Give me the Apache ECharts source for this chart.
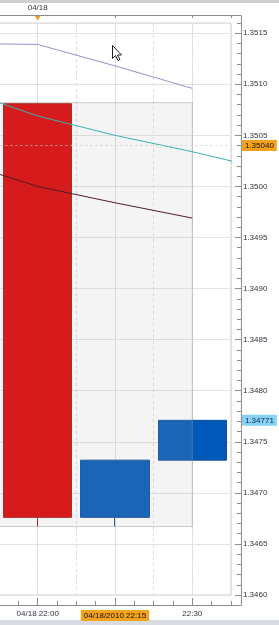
<!DOCTYPE html>
<html><head><meta charset="utf-8">
<script src="https://cdn.jsdelivr.net/npm/echarts@6/dist/echarts.min.js"></script>
<style>html,body{margin:0;padding:0;background:#fff;overflow:hidden}#c{width:279px;height:625px}</style>
</head><body><div id="c"></div>
<script>
// ---- data (x = minutes after 21:00) ----
const candleTimes = [60, 75, 90];
const candleOpen  = [1.35081, 1.34676, 1.34732];
const candleClose = [1.34676, 1.34732, 1.34771];
const candleLow   = [1.34667, 1.34667, 1.34732];
const candleHigh  = [1.35081, 1.34732, 1.34771];

const maTimes  = [45, 60, 75, 90, 105];
const maPurple = [1.35140, 1.35139, 1.35118, 1.35096, null];
const maTeal   = [1.35095, 1.35069, 1.35050, 1.35034, 1.35016];
const maMaroon = [1.35024, 1.35000, 1.34984, 1.34969, null];

const xTickValues = [60, 75, 90];
const xTickLabels = ['04/18 22:00', '04/18/2010 22:15', '22:30'];
const xHighlightTick = 75;
const topTickValue = 60;
const topTickLabel = '04/18';
const yTickLabels = ['1.3460','1.3465','1.3470','1.3475','1.3480','1.3485','1.3490','1.3495','1.3500','1.3505','1.3510','1.3515'];

const lastPrice = 1.35040, lastPriceText = '1.35040';
const bidPrice = 1.34771, bidPriceText = '1.34771';
const hlX = [45, 90], hlY = [1.35082, 1.34667];

// ---- layout ----
const X_MIN = 45, X_MAX = 97.5, Y_MIN = 1.3460, Y_MAX = 1.3516;
const GRID = {left: -39.6, right: 48.05, top: 23, bottom: 30};
const FONT = 'Liberation Sans';
const TXT = '#333340';
const AX = '#8c8c8c';

const chart = echarts.init(document.getElementById('c'), null, {renderer: 'canvas'});

function fmtX(v) {
  const i = xTickValues.indexOf(v);
  if (i < 0) return '';
  return v === xHighlightTick ? '{hl|' + xTickLabels[i] + '}' : xTickLabels[i];
}
function fmtY(v) {
  const s = (+v).toFixed(4);
  return yTickLabels.indexOf(s) >= 0 ? s : '';
}

const W = 279, H = 625;
const frameL = 0, frameR = W - GRID.right + 10, frameT = GRID.top - 8, frameB = H - GRID.bottom + 10;

chart.setOption({
  animation: false,
  backgroundColor: '#fff',
  textStyle: {fontFamily: FONT},
  grid: {left: GRID.left, right: GRID.right, top: GRID.top, bottom: GRID.bottom,
         outerBoundsMode: 'none', containLabel: false,
         show: true, borderColor: '#d4d4d4', borderWidth: 1, backgroundColor: 'transparent'},
  xAxis: [
    { type: 'value', position: 'bottom', offset: 10, min: X_MIN, max: X_MAX, interval: 15,
      axisLine: {show: false, onZero: false},
      axisTick: {show: true, inside: true, length: 7, lineStyle: {color: AX}},
      axisLabel: {show: true, margin: 5, fontSize: 8, fontFamily: FONT, color: TXT, formatter: fmtX,
                  showMaxLabel: false, showMinLabel: false, hideOverlap: false,
                  rich: {hl: {backgroundColor: '#f5a21c', color: '#111', padding: [2, 3, 1, 3], fontSize: 8, fontFamily: FONT}}},
      splitLine: {show: true, lineStyle: {color: '#e2e2e2', width: 1}} },
    { type: 'value', position: 'bottom', offset: 10, min: X_MIN, max: X_MAX, interval: 3.75,
      axisLine: {show: false, onZero: false},
      axisTick: {show: true, inside: true, length: 4, lineStyle: {color: AX}},
      axisLabel: {show: false}, splitLine: {show: false} },
    { type: 'value', position: 'bottom', offset: 10, min: X_MIN, max: X_MAX, interval: 7.5,
      axisLine: {show: false, onZero: false}, axisTick: {show: false}, axisLabel: {show: false},
      splitLine: {show: true, lineStyle: {color: '#dcdcdc', type: [3, 3], width: 1}} },
    { type: 'value', position: 'top', offset: 8, min: X_MIN, max: X_MAX, interval: 15,
      axisLine: {show: false, onZero: false},
      axisTick: {show: true, inside: true, length: 3, lineStyle: {color: AX}},
      axisLabel: {show: true, margin: 3, fontSize: 8, fontFamily: FONT, color: TXT,
                  formatter: v => v === topTickValue ? topTickLabel : ''},
      splitLine: {show: false} }
  ],
  yAxis: [
    { type: 'value', position: 'right', offset: 10, min: Y_MIN, max: Y_MAX, interval: 0.0005, scale: true,
      axisLine: {show: false, onZero: false},
      axisTick: {show: true, inside: true, length: 6, lineStyle: {color: AX}},
      axisLabel: {show: true, margin: 2, fontSize: 8, fontFamily: FONT, color: TXT, formatter: fmtY, showMaxLabel: false},
      splitLine: {show: true, lineStyle: {color: '#e2e2e2', width: 1}} },
    { type: 'value', position: 'right', offset: 10, min: Y_MIN, max: Y_MAX, interval: 0.0001, scale: true,
      axisLine: {show: false, onZero: false},
      axisTick: {show: true, inside: true, length: 4, lineStyle: {color: AX}},
      axisLabel: {show: false}, splitLine: {show: false} }
  ],
  series: [
    { type: 'candlestick', xAxisIndex: 0, yAxisIndex: 0, z: 2, barWidth: 69, clip: false,
      encode: {x: 0, y: [1, 2, 3, 4]},
      data: candleTimes.map((t, i) => [t, candleOpen[i], candleClose[i], candleLow[i], candleHigh[i]]),
      itemStyle: {color: '#0058b8', borderColor: '#0f4c98', color0: '#db0000', borderColor0: '#b01212', borderWidth: 1},
      markPoint: {
        silent: true, animation: false,
        data: [{coord: [topTickValue, Y_MAX], symbol: 'triangle', symbolRotate: 180, symbolSize: [6, 5],
                symbolOffset: [0, -5], itemStyle: {color: '#f39a1a'}, label: {show: false}}]
      }
    },
    { type: 'line', name: 'overlay', xAxisIndex: 0, yAxisIndex: 0, z: 3, data: [], clip: false,
      markArea: {silent: true, animation: false, z: 3,
        itemStyle: {color: 'rgba(178,178,178,0.15)', borderColor: 'rgba(150,150,150,0.45)', borderWidth: 1},
        data: [[{coord: [hlX[0], hlY[0]]}, {coord: [hlX[1], hlY[1]]}]]},
      markLine: {
        silent: true, symbol: 'none', animation: false, z: 6, precision: 5,
        data: [
          {yAxis: lastPrice,
           lineStyle: {color: 'rgba(200,200,200,0.75)', type: [2, 3], width: 1},
           label: {show: true, position: 'end', distance: 11, formatter: lastPriceText, fontSize: 8, fontFamily: FONT,
                   color: '#111', backgroundColor: '#f5a21c', padding: [2, 3, 1, 3]}},
          {yAxis: bidPrice,
           lineStyle: {color: 'rgba(0,0,0,0)', width: 1, type: 'solid'},
           label: {show: true, position: 'end', distance: 11, formatter: bidPriceText, fontSize: 8, fontFamily: FONT,
                   color: '#12244e', backgroundColor: '#86d3f4', padding: [2, 3, 1, 3], opacity: 1}}
        ]
      }
    },
    { type: 'line', xAxisIndex: 0, yAxisIndex: 0, z: 4, symbol: 'none', silent: true,
      lineStyle: {color: '#9292cc', width: 1}, data: maTimes.map((t, i) => [t, maPurple[i]]) },
    { type: 'line', xAxisIndex: 0, yAxisIndex: 0, z: 4, symbol: 'none', silent: true,
      lineStyle: {color: '#38b2b4', width: 1}, data: maTimes.map((t, i) => [t, maTeal[i]]) },
    { type: 'line', xAxisIndex: 0, yAxisIndex: 0, z: 4, symbol: 'none', silent: true,
      lineStyle: {color: '#4e1c2e', width: 1}, data: maTimes.map((t, i) => [t, maMaroon[i]]) }
  ],
  graphic: [
    {type: 'rect', shape: {x: 0, y: 0, width: W, height: 3}, style: {fill: '#cfcfcf'}, silent: true},
    {type: 'rect', shape: {x: 0, y: H - 5, width: W, height: 5}, style: {fill: '#d8dce1'}, silent: true},
    {type: 'polyline', shape: {points: [[frameL, frameT + 0.5], [frameR + 0.5, frameT + 0.5], [frameR + 0.5, frameB + 0.5], [frameL, frameB + 0.5]]},
     style: {stroke: AX, lineWidth: 1, fill: null}, silent: true, z: 10},
    {type: 'polygon', shape: {points: [[0,0],[0,13],[3,10],[5.5,15],[7.5,14],[5,9.5],[9,9.5]]},
     x: 112.5, y: 45.5, style: {fill: '#fff', stroke: '#222', lineWidth: 1}, silent: true, z: 20}
  ]
});
</script></body></html>
